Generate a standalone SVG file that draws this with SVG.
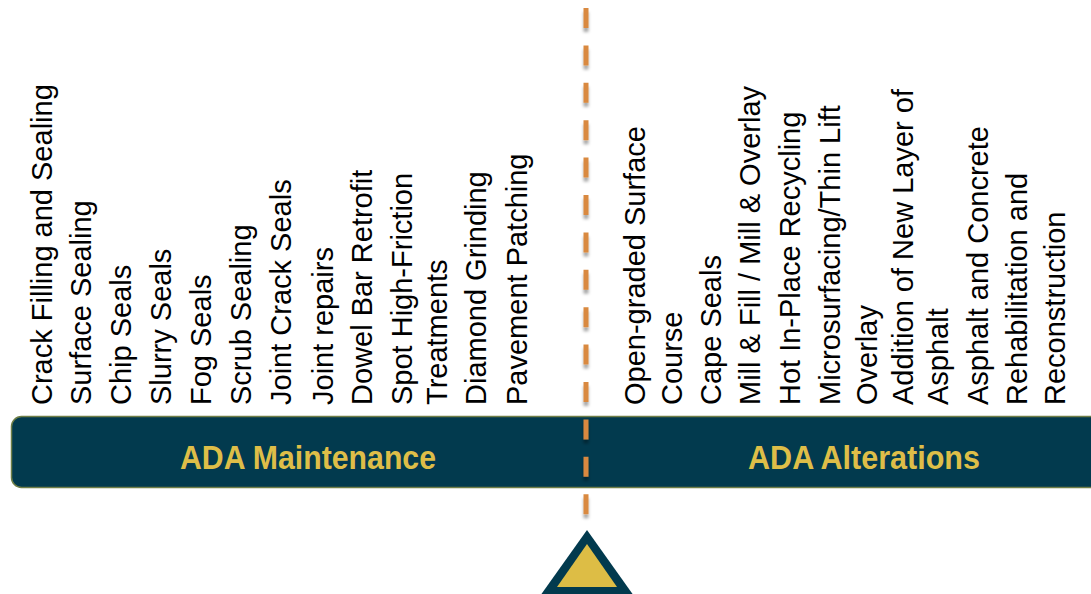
<svg xmlns="http://www.w3.org/2000/svg" width="1091" height="594" viewBox="0 0 1091 594">
  <defs>
    <style>
      .item { font-family: "Liberation Sans", Arial, sans-serif; font-size: 29px; fill: #000000; }
      .label { font-family: "Liberation Sans", Arial, sans-serif; font-size: 33px; font-weight: bold; fill: #DEBE48; }
      .navy { fill: #023A4E; }
    </style>
    <!-- soft shadow under each dash; user-space region because the line has no width -->
    <filter id="dashShadow" filterUnits="userSpaceOnUse" x="570" y="0" width="32" height="530">
      <feGaussianBlur in="SourceAlpha" stdDeviation="1.5"/>
      <feOffset dy="4" result="blur"/>
      <feFlood flood-color="#000000" flood-opacity="0.35"/>
      <feComposite in2="blur" operator="in"/>
      <feMerge>
        <feMergeNode/>
        <feMergeNode in="SourceGraphic"/>
      </feMerge>
    </filter>
  </defs>

  <rect width="1091" height="594" fill="#FFFFFF"/>

  <!-- Maintenance treatments (left of the divider) -->
  <g id="maintenance-items">
    <text class="item" transform="translate(52,405) rotate(-90)">Crack Filling and Sealing</text>
    <text class="item" transform="translate(91,405) rotate(-90)">Surface Sealing</text>
    <text class="item" transform="translate(131,405) rotate(-90)">Chip Seals</text>
    <text class="item" transform="translate(171,405) rotate(-90)">Slurry Seals</text>
    <text class="item" transform="translate(211,405) rotate(-90)">Fog Seals</text>
    <text class="item" transform="translate(251,405) rotate(-90)">Scrub Sealing</text>
    <text class="item" transform="translate(291,405) rotate(-90)">Joint Crack Seals</text>
    <text class="item" transform="translate(333,405) rotate(-90)">Joint repairs</text>
    <text class="item" transform="translate(372,405) rotate(-90)">Dowel Bar Retrofit</text>
    <text class="item" transform="translate(412,405) rotate(-90)">Spot High-Friction</text>
    <text class="item" transform="translate(447,405) rotate(-90)">Treatments</text>
    <text class="item" transform="translate(486,405) rotate(-90)">Diamond Grinding</text>
    <text class="item" transform="translate(527,405) rotate(-90)">Pavement Patching</text>
  </g>

  <!-- Alteration treatments (right of the divider) -->
  <g id="alteration-items">
    <text class="item" transform="translate(645,405) rotate(-90)">Open-graded Surface</text>
    <text class="item" transform="translate(682,405) rotate(-90)">Course</text>
    <text class="item" transform="translate(721,405) rotate(-90)">Cape Seals</text>
    <text class="item" transform="translate(760,405) rotate(-90)">Mill &amp; Fill / Mill &amp; Overlay</text>
    <text class="item" transform="translate(800,405) rotate(-90)">Hot In-Place Recycling</text>
    <text class="item" transform="translate(840,405) rotate(-90)">Microsurfacing/Thin Lift</text>
    <text class="item" transform="translate(877,405) rotate(-90)">Overlay</text>
    <text class="item" transform="translate(913,405) rotate(-90)">Addition of New Layer of</text>
    <text class="item" transform="translate(948,405) rotate(-90)">Asphalt</text>
    <text class="item" transform="translate(988,405) rotate(-90)">Asphalt and Concrete</text>
    <text class="item" transform="translate(1027,405) rotate(-90)">Rehabilitation and</text>
    <text class="item" transform="translate(1065,405) rotate(-90)">Reconstruction</text>
  </g>

  <!-- Category bar -->
  <g id="category-bar">
    <rect class="navy" x="11.5" y="416.5" width="1100" height="71" rx="10" ry="10" stroke="#6F7E47" stroke-width="1.5"/>
    <text class="label" x="180" y="469" textLength="256" lengthAdjust="spacingAndGlyphs">ADA Maintenance</text>
    <text class="label" x="748" y="469" textLength="232" lengthAdjust="spacingAndGlyphs">ADA Alterations</text>
  </g>

  <!-- Dashed dividing line -->
  <g id="connectors">
    <line x1="586" y1="8" x2="586" y2="515" stroke="#D9893F" stroke-width="5" stroke-dasharray="20 17.4" filter="url(#dashShadow)"/>
  </g>

  <!-- Fulcrum -->
  <g id="fulcrum">
    <polygon class="navy" points="587,530 540,596 634,596"/>
    <polygon points="587,544 557,587 617,587" fill="#DDBD45"/>
  </g>
</svg>
